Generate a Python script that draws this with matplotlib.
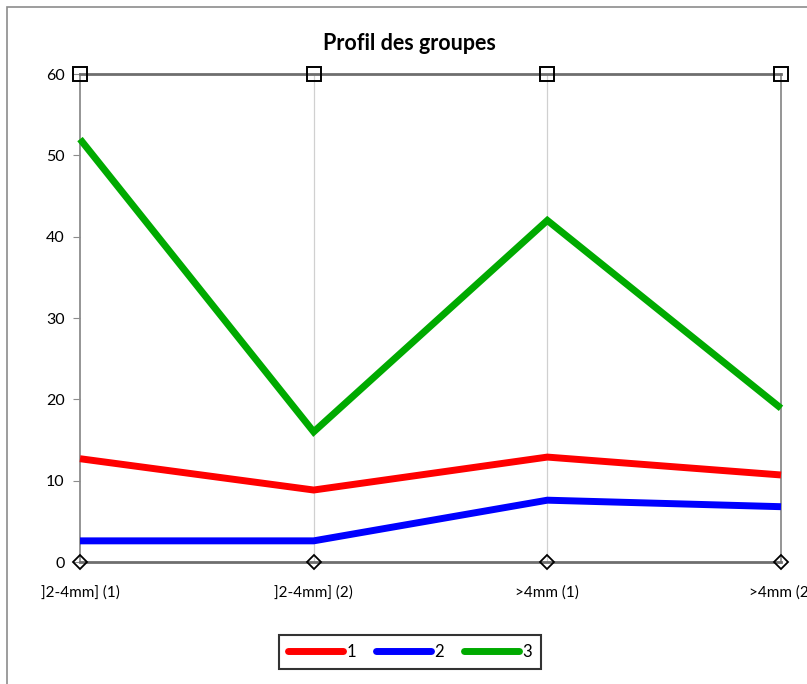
import matplotlib.pyplot as plt
from matplotlib.patches import Rectangle
from matplotlib.lines import Line2D

plt.rcParams['font.family'] = ['Lato', 'DejaVu Sans']

categories = [']2-4mm] (1)', ']2-4mm] (2)', '>4mm (1)', '>4mm (2)']
group1 = [12.7, 8.85, 12.9, 10.7]
group2 = [2.6, 2.6, 7.6, 6.8]
group3 = [52.0, 16.0, 42.0, 18.9]
series_names = ['1', '2', '3']
series_colors = ['#ff0000', '#0000ff', '#00aa00']
y_ticks = [0, 10, 20, 30, 40, 50, 60]

fig = plt.figure(figsize=(8.07, 6.84), dpi=100)
fig.patch.set_facecolor('white')

# outer chart frame
fig.add_artist(Rectangle((7 / 807, -0.05), 1.2, 1 - 7 / 684 + 0.05,
                         transform=fig.transFigure, fill=False,
                         edgecolor='#8c8c8c', linewidth=1.2))

ax = fig.add_axes([80 / 807, 1 - 562 / 684, (781 - 80) / 807, (562 - 74) / 684])
x = list(range(len(categories)))

for xi in x[1:-1]:
    ax.axvline(xi, color='#d0d0d0', linewidth=0.9, zorder=0)

for vals, name, col in zip([group1, group2, group3], series_names, series_colors):
    ax.plot(x, vals, color=col, linewidth=5, solid_joinstyle='miter',
            solid_capstyle='butt', label=name, zorder=3, clip_on=False)

# axis-end markers
ax.plot(x, [y_ticks[-1]] * len(x), linestyle='none', marker='s', markersize=9.5,
        markerfacecolor='none', markeredgecolor='black', markeredgewidth=1.4,
        clip_on=False, zorder=5)
ax.plot(x, [y_ticks[0]] * len(x), linestyle='none', marker='D', markersize=7,
        markerfacecolor='none', markeredgecolor='black', markeredgewidth=1.3,
        clip_on=False, zorder=5)

ax.set_xlim(x[0], x[-1])
ax.set_ylim(y_ticks[0], y_ticks[-1])
ax.set_yticks(y_ticks)
ax.set_xticks(x)
ax.set_xticklabels(categories)
ax.tick_params(axis='y', direction='out', length=5, color='#8c8c8c',
               labelsize=11.5, pad=6)
ax.tick_params(axis='x', length=0, labelsize=11, pad=17)

for side in ['left', 'right']:
    ax.spines[side].set_color('#8c8c8c')
    ax.spines[side].set_linewidth(1.3)
for side in ['top', 'bottom']:
    ax.spines[side].set_color('#6e6e6e')
    ax.spines[side].set_linewidth(2)

fig.text(409 / 807, 1 - 44 / 684, 'Profil des groupes', ha='center', va='center',
         fontsize=15.5, fontweight='bold')

handles = [Line2D([0], [0], color=c, linewidth=5, solid_capstyle='round')
           for c in series_colors]
leg = fig.legend(handles, series_names, loc='center', bbox_to_anchor=(410 / 807, 1 - 652 / 684),
                 ncol=3, frameon=True, fancybox=False, fontsize=12,
                 handlelength=3.3, handletextpad=0.2, columnspacing=1.2,
                 borderpad=0.55)
leg.get_frame().set_edgecolor('black')
leg.get_frame().set_linewidth(1.5)

fig.savefig('out.png', dpi=100)
